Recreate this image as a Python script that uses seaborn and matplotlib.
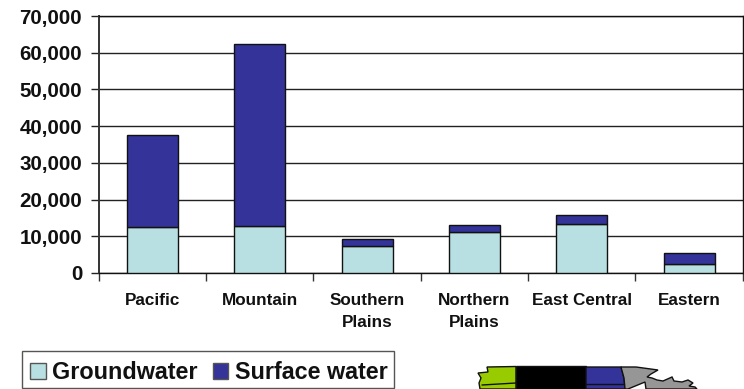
import matplotlib
matplotlib.use("Agg")
import matplotlib.pyplot as plt
from matplotlib.patches import Patch, Polygon, Rectangle
from matplotlib.ticker import FuncFormatter
import seaborn as sns

regions = ["Pacific", "Mountain", "Southern\nPlains", "Northern\nPlains", "East Central", "Eastern"]
groundwater = [12500, 12800, 7300, 11250, 13250, 2450]
surface_water = [25000, 49500, 2050, 1800, 2650, 3000]
series_names = ["Groundwater", "Surface water"]
y_ticks = [0, 10000, 20000, 30000, 40000, 50000, 60000, 70000]

GW_COLOR = "#B8E0E2"
SW_COLOR = "#333399"
EDGE = "#111111"

# Corner map of the regions, in figure pixels
map_green = [(478, 373), (488, 372), (487, 367), (516, 366.5), (516, 389), (480, 389), (479, 383), (481, 378)]
map_black = [(516, 366), (586, 366), (586, 389), (516, 389)]
map_blue = [(586, 367), (621, 367), (624, 378), (625, 389), (586, 389)]
map_gray = [(621, 367), (636, 367), (658, 370), (651, 374), (647, 377), (652, 378), (657, 380),
            (663, 381), (672, 377), (674, 381), (682, 382), (688, 380), (693, 383), (689, 386),
            (695, 387), (697, 389), (646, 389), (645, 382), (628, 389), (625, 389), (624, 378)]
map_lines = [((482, 385), (516, 383)), ((586, 384), (624, 384))]

sns.set_theme(style="white")
plt.rcParams["font.family"] = ["Liberation Sans", "DejaVu Sans"]
plt.rcParams["font.weight"] = "bold"

W, H = 744, 389
fig = plt.figure(figsize=(W / 100, H / 100), dpi=100, facecolor="white")
ax = fig.add_axes([98.8 / W, 1 - 273 / H, (742.8 - 98.8) / W, (273 - 16) / H])

bar_style = dict(width=0.475, linewidth=1.0, edgecolor=EDGE, saturation=1, zorder=3)
sns.barplot(x=regions, y=groundwater, color=GW_COLOR, ax=ax, **bar_style)
sns.barplot(x=regions, y=surface_water, bottom=groundwater, color=SW_COLOR, ax=ax, **bar_style)

ax.set_xlim(-0.5, 5.5)
ax.set_ylim(0, 70000)
ax.set_yticks(y_ticks)
ax.yaxis.set_major_formatter(FuncFormatter(lambda v, _: f"{int(v):,}"))
ax.set_xticks([i - 0.5 for i in range(7)], minor=True)
ax.set_xticks(range(len(regions)), regions, linespacing=1.55)
ax.grid(axis="y", color="#222222", linewidth=1.0, zorder=1)
ax.set_axisbelow(True)

ax.tick_params(axis="y", which="major", labelsize=14.8, length=5.5, width=1, color="#222222",
               pad=6.5, left=True, labelcolor="#111111")
ax.tick_params(axis="x", which="major", labelsize=12.3, length=0, pad=14.5, labelcolor="#111111")
ax.tick_params(axis="x", which="minor", length=5.5, width=1, color="#333333", bottom=True)

for side, spine in ax.spines.items():
    spine.set_visible(True)
    spine.set_edgecolor("#333333" if side == "left" else "#111111")
    spine.set_linewidth(1.4 if side == "left" else 1.0)

handles = [
    Patch(facecolor=GW_COLOR, edgecolor="#555555", linewidth=1, label=series_names[0]),
    Patch(facecolor=SW_COLOR, edgecolor="#555555", linewidth=1, label=series_names[1]),
]
legend = fig.legend(
    handles=handles, ncol=2, loc="lower left",
    bbox_to_anchor=(22 / W, 1 - 392.5 / H), bbox_transform=fig.transFigure,
    prop={"family": "Liberation Sans", "weight": "bold", "size": 16.8},
    frameon=False, borderaxespad=0,
    handlelength=0.66, handleheight=0.66, handletextpad=0.28, columnspacing=0.64,
    borderpad=0.36, labelcolor="#111111",
)

# Overlay in pixel coordinates for the legend box and the corner map
overlay = fig.add_axes([0, 0, 1, 1], zorder=5)
overlay.set_xlim(0, W)
overlay.set_ylim(H, 0)
overlay.axis("off")
overlay.patch.set_alpha(0)
overlay.add_patch(Rectangle((22, 351), 372, 37, fill=False, edgecolor="#555555", linewidth=1.0))
for outline, fill in [(map_green, "#99CC00"), (map_black, "#000000"), (map_blue, "#333399"), (map_gray, "#969696")]:
    overlay.add_patch(Polygon(outline, closed=True, facecolor=fill, edgecolor="#111111", linewidth=1.0))
for start, end in map_lines:
    overlay.plot(*zip(start, end), color="#111111", linewidth=1.0)

fig.savefig("out.png", dpi=100)
